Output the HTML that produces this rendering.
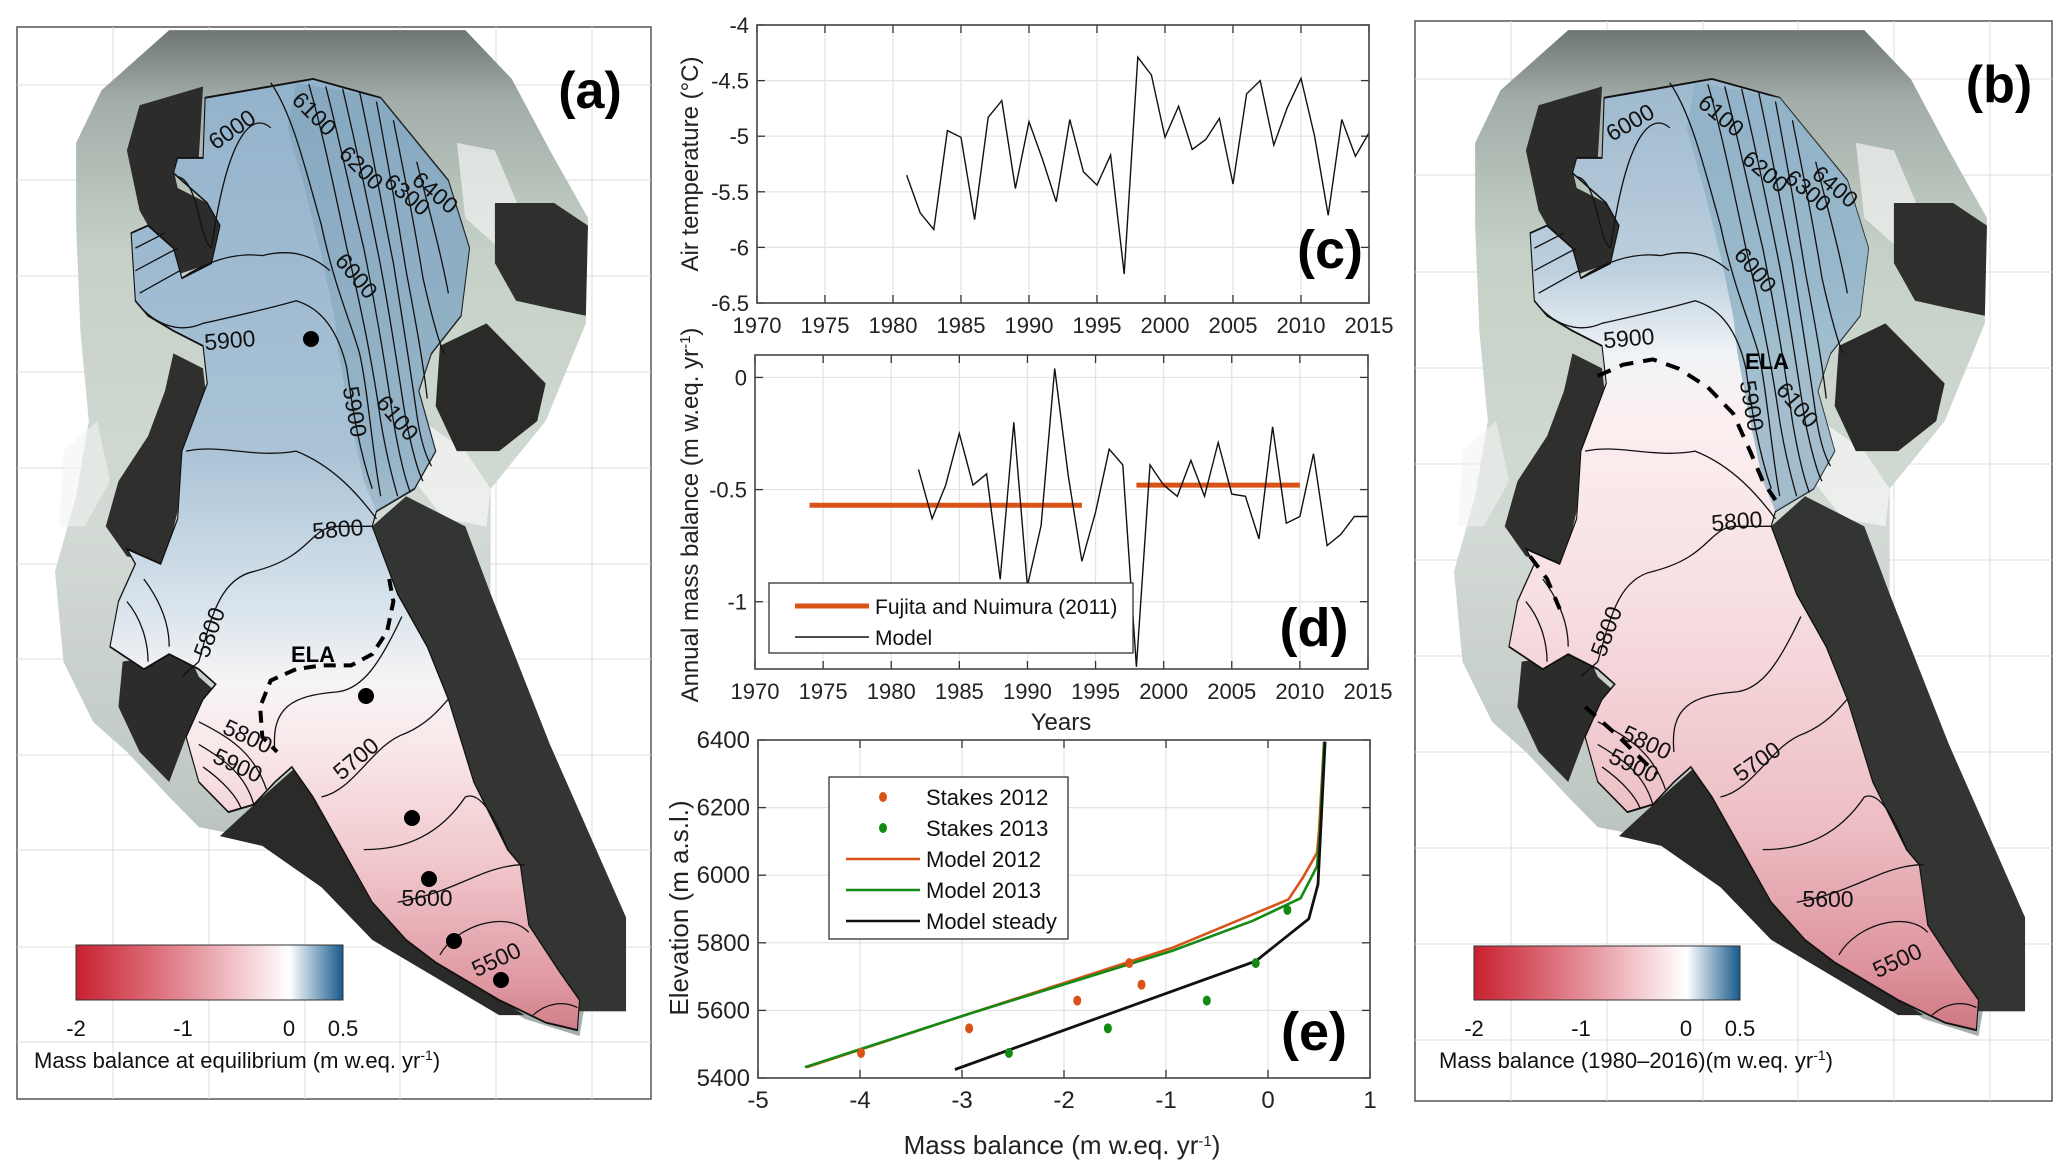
<!DOCTYPE html>
<html><head><meta charset="utf-8"><title>Glacier mass balance figure</title>
<style>
html,body{margin:0;padding:0;background:#fff;}
svg{display:block;font-family:"Liberation Sans",Arial,sans-serif;}
</style></head>
<body>
<svg id="fig" width="2067" height="1173" viewBox="0 0 2067 1173" xmlns="http://www.w3.org/2000/svg">
<defs>
  <linearGradient id="terrainGrad" gradientUnits="userSpaceOnUse" x1="0" y1="40" x2="0" y2="1380">
    <stop offset="0" stop-color="#6e7673"/>
    <stop offset="0.07" stop-color="#a3ada9"/>
    <stop offset="0.22" stop-color="#c5d1c7"/>
    <stop offset="0.5" stop-color="#d3dad5"/>
    <stop offset="0.75" stop-color="#c1c9c5"/>
    <stop offset="1" stop-color="#a5aeab"/>
  </linearGradient>
  <linearGradient id="glacA" gradientUnits="userSpaceOnUse" x1="0" y1="100" x2="0" y2="1380">
    <stop offset="0" stop-color="#93b2cb"/>
    <stop offset="0.39" stop-color="#aac3d6"/>
    <stop offset="0.55" stop-color="#d8e3ec"/>
    <stop offset="0.63" stop-color="#f6f4f5"/>
    <stop offset="0.70" stop-color="#f9e7e9"/>
    <stop offset="0.82" stop-color="#f0c7cc"/>
    <stop offset="0.94" stop-color="#e09aa3"/>
    <stop offset="1" stop-color="#cf7b86"/>
  </linearGradient>
  <linearGradient id="glacB" gradientUnits="userSpaceOnUse" x1="0" y1="100" x2="0" y2="1380">
    <stop offset="0" stop-color="#9db8cd"/>
    <stop offset="0.2" stop-color="#bccfde"/>
    <stop offset="0.29" stop-color="#eff3f6"/>
    <stop offset="0.35" stop-color="#fbf0f1"/>
    <stop offset="0.55" stop-color="#f7dee1"/>
    <stop offset="0.78" stop-color="#edbec4"/>
    <stop offset="0.93" stop-color="#dd929c"/>
    <stop offset="1" stop-color="#cd7580"/>
  </linearGradient>
  <linearGradient id="cbarGrad" x1="0" y1="0" x2="1" y2="0">
    <stop offset="0" stop-color="#c8202f"/>
    <stop offset="0.4" stop-color="#e38a94"/>
    <stop offset="0.8" stop-color="#ffffff"/>
    <stop offset="1" stop-color="#175a8c"/>
  </linearGradient>
  <g id="terrain">
    <path fill="url(#terrainGrad)" d="M180,190 L240,120 L400,40 L1100,40 L1210,105 L1300,200 L1390,290 L1385,430 L1290,560 L1160,650 L1160,790 L1250,930 L1370,1090 L1480,1220 L1480,1345 L1380,1345 L1370,1378 L1240,1355 L1000,1270 L860,1190 L740,1120 L560,1110 L470,1100 L400,1060 L300,1000 L220,960 L150,880 L130,760 L180,660 L210,560 L190,440 L180,300 Z"/>
    <path fill="#f2f4f2" opacity="0.8" d="M1000,560 L1100,600 L1160,650 L1150,700 L1050,690 L980,640 Z"/>
    <path fill="#f2f4f2" opacity="0.7" d="M1080,190 L1170,200 L1230,280 L1180,330 L1100,290 Z"/>
    <path fill="#f2f4f2" opacity="0.6" d="M150,600 L230,560 L260,640 L200,700 L140,700 Z"/>
    <path fill="#2c2d2b" d="M330,140 L480,115 L470,210 L410,225 L420,250 L490,270 L520,300 L500,350 L420,365 L380,330 L330,280 L300,200 Z"/>
    <path fill="#2f302e" d="M410,470 L480,490 L490,540 L430,600 L420,680 L390,750 L300,740 L250,700 L280,640 L350,580 L390,520 Z"/>
    <path fill="#2c2d2b" d="M290,880 L400,870 L430,850 L470,900 L510,920 L480,960 L440,980 L400,1040 L330,1000 L280,940 Z"/>
    <path fill="#2f302e" d="M1170,270 L1310,270 L1390,300 L1385,420 L1300,410 L1220,400 L1170,350 Z"/>
    <path fill="#2a2b29" d="M1040,460 L1150,430 L1290,510 L1270,560 L1180,600 L1080,600 L1030,540 Z"/>
    <path fill="#333532" d="M880,700 L960,660 L1100,700 L1160,790 L1300,990 L1480,1220 L1480,1345 L1370,1345 L1250,1230 L1200,1130 L1100,1020 L1000,880 L930,780 Z"/>
    <path fill="#2a2b29" d="M620,1060 L700,1020 L780,1080 L900,1190 L1050,1280 L1240,1350 L1180,1350 L1000,1290 L880,1250 L760,1180 L620,1125 L520,1112 Z"/>
  </g>
  <path id="glacier" d="M485,130 L740,105 L900,130 L1060,240 L1110,330 L1090,420 L1020,470 L990,520 L1030,600 L980,650 L890,680 L880,700 L940,790 L1010,860 L1060,930 L1120,1040 L1200,1130 L1230,1150 L1250,1230 L1320,1290 L1370,1330 L1365,1370 L1290,1360 L1180,1330 L1030,1280 L960,1250 L880,1200 L800,1120 L740,1060 L690,1020 L650,1040 L600,1070 L540,1080 L470,1040 L440,980 L480,930 L510,910 L470,890 L400,870 L340,890 L260,860 L280,800 L320,750 L300,730 L380,750 L420,690 L430,600 L490,510 L480,460 L410,440 L350,420 L320,400 L310,310 L350,300 L410,330 L430,370 L500,350 L520,300 L490,270 L410,230 L420,210 L480,210 Z"/>
  <path id="steep" d="M700,110 L900,130 L1060,240 L1110,330 L1090,420 L1020,470 L990,520 L1030,600 L980,650 L890,680 L860,640 L830,560 L800,470 L790,420 L760,340 L720,250 L680,170 Z"/>
  <g id="contours" fill="none" stroke="#111" stroke-width="1.3">
    <path vector-effect="non-scaling-stroke" d="M420,235 C470,240 470,320 500,330 M500,330 C540,170 600,150 640,170"/>
    <path vector-effect="non-scaling-stroke" d="M640,110 C690,150 720,220 760,300 C790,380 830,430 850,470 C870,520 880,600 900,660"/>
    <path vector-effect="non-scaling-stroke" d="M730,112 C760,170 790,250 820,330 C850,400 880,480 900,560 C915,610 930,640 940,660"/>
    <path vector-effect="non-scaling-stroke" d="M770,115 C800,180 830,260 860,330 C885,400 910,480 930,560 C945,610 960,640 970,655"/>
    <path vector-effect="non-scaling-stroke" d="M810,118 C840,190 870,270 895,340 C920,410 940,490 960,560 C975,600 990,630 1000,640"/>
    <path vector-effect="non-scaling-stroke" d="M850,122 C880,200 905,280 930,350 C950,420 970,490 985,550 C995,590 1010,610 1020,620"/>
    <path vector-effect="non-scaling-stroke" d="M890,135 C915,210 940,290 960,360 C980,420 1000,480 1010,530"/>
    <path vector-effect="non-scaling-stroke" d="M930,160 C955,230 980,300 1000,370 C1020,420 1040,460 1050,470"/>
    <path vector-effect="non-scaling-stroke" d="M985,215 C1010,270 1040,330 1060,390"/>
    <path vector-effect="non-scaling-stroke" d="M430,370 C480,350 550,335 620,340 C690,330 740,340 780,360"/>
    <path vector-effect="non-scaling-stroke" d="M320,400 C360,430 420,445 480,430 C560,420 640,410 700,400 C760,410 800,440 820,490 C835,550 850,600 880,650"/>
    <path vector-effect="non-scaling-stroke" d="M440,600 C520,590 600,610 700,600 C790,620 850,660 890,690"/>
    <path vector-effect="non-scaling-stroke" d="M880,700 L800,700 C730,700 740,740 600,760 C520,770 500,820 470,880 L430,900"/>
    <path vector-effect="non-scaling-stroke" d="M650,1000 C640,940 690,925 800,920 C860,915 900,880 950,820"/>
    <path vector-effect="non-scaling-stroke" d="M760,1060 C840,1050 880,990 960,975 C1020,960 1050,935 1060,930"/>
    <path vector-effect="non-scaling-stroke" d="M860,1130 C960,1130 1040,1110 1100,1060 C1140,1050 1180,1100 1200,1130"/>
    <path vector-effect="non-scaling-stroke" d="M940,1200 C1040,1190 1100,1170 1150,1160 C1200,1150 1230,1150 1240,1150"/>
    <path vector-effect="non-scaling-stroke" d="M1040,1270 C1080,1230 1200,1210 1250,1240"/>
    <path vector-effect="non-scaling-stroke" d="M1260,1350 C1290,1335 1330,1330 1365,1340"/>
    <path vector-effect="non-scaling-stroke" d="M320,330 L390,310 M320,360 L420,330 M330,390 L425,360"/>
    <path vector-effect="non-scaling-stroke" d="M300,800 C330,820 350,850 350,880 M340,770 C380,800 400,830 400,860"/>
    <path vector-effect="non-scaling-stroke" d="M470,960 C540,980 600,1000 630,1050 M470,990 C530,1010 580,1030 600,1070 M480,1020 C530,1040 560,1060 570,1075"/>
  </g>
</defs>

<!-- ============ PANEL A ============ -->
<g id="panel-a">
  <rect x="17" y="27" width="634" height="1072" fill="#fff" stroke="#555" stroke-width="1.5"/>
  <g stroke="#dcdcdc" stroke-width="1">
    <path d="M113,27V1099 M209,27V1099 M305,27V1099 M400,27V1099 M496,27V1099 M592,27V1099 M17,85H651 M17,180H651 M17,276H651 M17,372H651 M17,468H651 M17,564H651 M17,659H651 M17,755H651 M17,850H651 M17,947H651 M17,1042H651"/>
  </g>
  <g transform="translate(0,0) scale(0.423,0.7519)">
    <use href="#terrain"/>
    <use href="#glacier" fill="url(#glacA)" stroke="#111" stroke-width="2.6" vector-effect="non-scaling-stroke"/>
    <use href="#steep" fill="#6f98ac" opacity="0.35"/>
    <use href="#contours"/>
    <path fill="none" stroke="#000" stroke-width="4" stroke-dasharray="12 8" vector-effect="non-scaling-stroke" d="M920,770 L930,800 L915,840 L880,870 L830,885 L760,885 L700,890 L640,905 L615,940 L620,980 L655,1000"/>
  </g>
  <g fill="#000">
    <circle cx="311" cy="339" r="8"/><circle cx="366" cy="696" r="8"/><circle cx="412" cy="818" r="8"/><circle cx="429" cy="879" r="8"/><circle cx="454" cy="941" r="8"/><circle cx="501" cy="980" r="8"/>
  </g>
  <g font-size="23" fill="#111" text-anchor="middle" dominant-baseline="middle">
    <text transform="translate(233,131) rotate(-35)">6000</text>
    <text transform="translate(313,115) rotate(45)">6100</text>
    <text transform="translate(360,169) rotate(45)">6200</text>
    <text transform="translate(406,196) rotate(40)">6300</text>
    <text transform="translate(434,194) rotate(40)">6400</text>
    <text transform="translate(355,277) rotate(50)">6000</text>
    <text transform="translate(230,342) rotate(-5)">5900</text>
    <text transform="translate(353,412) rotate(80)">5900</text>
    <text transform="translate(396,419) rotate(50)">6100</text>
    <text transform="translate(338,531) rotate(-5)">5800</text>
    <text transform="translate(211,633) rotate(-70)">5800</text>
    <text transform="translate(247,738) rotate(25)">5800</text>
    <text transform="translate(237,767) rotate(25)">5900</text>
    <text transform="translate(357,760) rotate(-40)">5700</text>
    <text transform="translate(427,900)">5600</text>
    <text transform="translate(497,961) rotate(-25)">5500</text>
  </g>
  <text x="313" y="662" font-size="22" font-weight="bold" text-anchor="middle">ELA</text>
  <text x="590" y="108" font-size="52" font-weight="bold" text-anchor="middle">(a)</text>
  <rect x="76" y="945" width="267" height="55" fill="url(#cbarGrad)" stroke="#333" stroke-width="1"/>
  <g font-size="22" text-anchor="middle" fill="#111">
    <text x="76" y="1036">-2</text><text x="183" y="1036">-1</text><text x="289" y="1036">0</text><text x="343" y="1036">0.5</text>
  </g>
  <text x="34" y="1068" font-size="22" fill="#111">Mass balance at equilibrium (m w.eq. yr<tspan baseline-shift="super" font-size="14">-1</tspan>)</text>
</g>

<!-- ============ PANEL B ============ -->
<g id="panel-b">
  <rect x="1415" y="21" width="637" height="1080" fill="#fff" stroke="#555" stroke-width="1.5"/>
  <g stroke="#dcdcdc" stroke-width="1">
    <path d="M1511,21V1101 M1607,21V1101 M1703,21V1101 M1798,21V1101 M1894,21V1101 M1990,21V1101 M1415,79H2052 M1415,175H2052 M1415,272H2052 M1415,368H2052 M1415,464H2052 M1415,560H2052 M1415,656H2052 M1415,752H2052 M1415,848H2052 M1415,944H2052 M1415,1040H2052"/>
  </g>
  <g transform="translate(1399,0) scale(0.423,0.7519)">
    <use href="#terrain"/>
    <use href="#glacier" fill="url(#glacB)" stroke="#111" stroke-width="2.6" vector-effect="non-scaling-stroke"/>
    <use href="#steep" fill="#8fb1c6" opacity="0.8"/>
    <use href="#contours"/>
    <path fill="none" stroke="#000" stroke-width="4" stroke-dasharray="14 10" vector-effect="non-scaling-stroke" d="M470,500 L530,485 L600,478 L660,490 L730,515 L790,550 L830,600 L860,640 L890,665"/>
    <path fill="none" stroke="#000" stroke-width="4" stroke-dasharray="14 10" vector-effect="non-scaling-stroke" d="M310,740 L350,770 L380,810 M440,940 L520,980 L610,1030"/>
  </g>
  <g font-size="23" fill="#111" text-anchor="middle" dominant-baseline="middle">
    <text transform="translate(1631,124) rotate(-30)">6000</text>
    <text transform="translate(1720,117) rotate(40)">6100</text>
    <text transform="translate(1764,173) rotate(40)">6200</text>
    <text transform="translate(1807,192) rotate(40)">6300</text>
    <text transform="translate(1834,188) rotate(40)">6400</text>
    <text transform="translate(1754,271) rotate(50)">6000</text>
    <text transform="translate(1629,340) rotate(-5)">5900</text>
    <text transform="translate(1750,406) rotate(80)">5900</text>
    <text transform="translate(1796,406) rotate(50)">6100</text>
    <text transform="translate(1737,523) rotate(-5)">5800</text>
    <text transform="translate(1608,632) rotate(-70)">5800</text>
    <text transform="translate(1646,744) rotate(25)">5800</text>
    <text transform="translate(1633,767) rotate(25)">5900</text>
    <text transform="translate(1758,763) rotate(-35)">5700</text>
    <text transform="translate(1828,901)">5600</text>
    <text transform="translate(1898,962) rotate(-25)">5500</text>
  </g>
  <text x="1767" y="369" font-size="22" font-weight="bold" text-anchor="middle">ELA</text>
  <text x="1999" y="102" font-size="52" font-weight="bold" text-anchor="middle">(b)</text>
  <rect x="1474" y="946" width="266" height="54" fill="url(#cbarGrad)" stroke="#333" stroke-width="1"/>
  <g font-size="22" text-anchor="middle" fill="#111">
    <text x="1474" y="1036">-2</text><text x="1581" y="1036">-1</text><text x="1686" y="1036">0</text><text x="1740" y="1036">0.5</text>
  </g>
  <text x="1439" y="1068" font-size="22" fill="#111">Mass balance (1980–2016)(m w.eq. yr<tspan baseline-shift="super" font-size="14">-1</tspan>)</text>
</g>

<g id="charts"></g>
</svg>

<script>
// ---------- Chart (c): air temperature ----------
const tempYears = [1981,1982,1983,1984,1985,1986,1987,1988,1989,1990,1991,1992,1993,1994,1995,1996,1997,1998,1999,2000,2001,2002,2003,2004,2005,2006,2007,2008,2009,2010,2011,2012,2013,2014,2015];
const tempValues = [-5.35,-5.69,-5.84,-4.95,-5.01,-5.75,-4.83,-4.68,-5.47,-4.87,-5.21,-5.59,-4.85,-5.32,-5.44,-5.17,-6.24,-4.29,-4.45,-5.01,-4.73,-5.12,-5.03,-4.84,-5.43,-4.62,-4.5,-5.08,-4.74,-4.48,-5.0,-5.71,-4.85,-5.18,-4.97];
const yearTicks = [1970,1975,1980,1985,1990,1995,2000,2005,2010,2015];
const tempTicks = [-6.5,-6,-5.5,-5,-4.5,-4];
// ---------- Chart (d): annual mass balance ----------
const mbYears = [1982,1983,1984,1985,1986,1987,1988,1989,1990,1991,1992,1993,1994,1995,1996,1997,1998,1999,2000,2001,2002,2003,2004,2005,2006,2007,2008,2009,2010,2011,2012,2013,2014,2015];
const mbValues = [-0.41,-0.63,-0.48,-0.25,-0.48,-0.43,-0.9,-0.2,-0.93,-0.66,0.04,-0.44,-0.82,-0.6,-0.32,-0.39,-1.29,-0.39,-0.48,-0.53,-0.37,-0.53,-0.29,-0.52,-0.53,-0.72,-0.22,-0.65,-0.62,-0.34,-0.75,-0.7,-0.62,-0.62];
const fujitaStart = [1974,1998];
const fujitaEnd = [1994,2010];
const fujitaValue = [-0.57,-0.48];
const mbTicks = [-1,-0.5,0];
// ---------- Chart (e): mass balance profile ----------
const stakes2012MB = [-3.99,-2.93,-1.87,-1.36,-1.24];
const stakes2012Elev = [5474,5547,5629,5740,5676];
const stakes2013MB = [-2.54,-1.57,-0.6,-0.12,0.19];
const stakes2013Elev = [5474,5547,5629,5740,5897];
const model2012MB = [-4.52,-2.94,-0.94,0.2,0.34,0.48,0.5,0.55];
const model2012Elev = [5432,5589,5785,5928,5992,6066,6130,6395];
const model2013MB = [-4.54,-2.94,-0.94,-0.15,0.32,0.48,0.51,0.55];
const model2013Elev = [5432,5589,5776,5865,5932,6026,6130,6395];
const steadyMB = [-3.07,-0.12,0.4,0.49,0.56];
const steadyElev = [5425,5746,5871,5973,6395];
const mbXTicks = [-5,-4,-3,-2,-1,0,1];
const elevTicks = [5400,5600,5800,6000,6200,6400];

const NS = "http://www.w3.org/2000/svg";
const root = document.getElementById('charts');
function mk(parent, tag, attrs, text){
  const el = document.createElementNS(NS, tag);
  for (const k in attrs) el.setAttribute(k, attrs[k]);
  if (text !== undefined) el.textContent = text;
  parent.appendChild(el);
  return el;
}
function scale(d0,d1,r0,r1){ return v => r0 + (v-d0)/(d1-d0)*(r1-r0); }
const ORANGE = "#d95319", GREEN = "#138a13";

function axes(g, name, X, Y, box, xt, yt, xfmt, yfmt, fs){
  const grid = mk(g,'g',{stroke:'#e3e3e3','stroke-width':1.2});
  
  
  xt.forEach(t=>{ mk(grid,'line',{x1:X(t),x2:X(t),y1:box.t,y2:box.b}); });
  yt.forEach(t=>{ mk(grid,'line',{x1:box.l,x2:box.r,y1:Y(t),y2:Y(t)}); });
  const tk = mk(g,'g',{stroke:'#333','stroke-width':1.3});
  
  
  xt.forEach(t=>{ mk(tk,'line',{x1:X(t),x2:X(t),y1:box.b,y2:box.b-8}); mk(tk,'line',{x1:X(t),x2:X(t),y1:box.t,y2:box.t+8}); });
  yt.forEach(t=>{ mk(tk,'line',{x1:box.l,x2:box.l+8,y1:Y(t),y2:Y(t)}); mk(tk,'line',{x1:box.r,x2:box.r-8,y1:Y(t),y2:Y(t)}); });
  const xl = mk(g,'g',{'font-size':fs,'text-anchor':'middle',fill:'#222'});
  
  
  xt.forEach(t=>{ mk(xl,'text',{x:X(t),y:box.b+30},xfmt(t)); });
  const yl = mk(g,'g',{'font-size':fs,'text-anchor':'end',fill:'#222'});
  
  
  yt.forEach(t=>{ mk(yl,'text',{x:box.l-8,y:Y(t)+8},yfmt(t)); });
}
function frame(g,name,box){
  const r = mk(g,'rect',{x:box.l,y:box.t,width:box.r-box.l,height:box.b-box.t,fill:'none',stroke:'#444','stroke-width':1.6});
  
  
}
function pts(xs,ys,X,Y){ return xs.map((v,i)=>X(v).toFixed(1)+','+Y(ys[i]).toFixed(1)).join(' '); }

// ---- chart c ----
const gc = mk(root,'g',{});


const bc = {l:757,r:1369,t:25,b:303};
const Xc = scale(1970,2015,bc.l,bc.r), Yc = scale(-6.5,-4,bc.b,bc.t);
mk(gc,'rect',{x:bc.l,y:bc.t,width:bc.r-bc.l,height:bc.b-bc.t,fill:'#fff'});
axes(gc,'chart-c',Xc,Yc,bc,yearTicks,tempTicks,String,String,22);
const lc = mk(gc,'polyline',{points:pts(tempYears,tempValues,Xc,Yc),fill:'none',stroke:'#111','stroke-width':1.4});


frame(gc,'chart-c',bc);
const cl = mk(gc,'text',{x:1330,y:268,'font-size':54,'font-weight':'bold','text-anchor':'middle'},'(c)');


const cy = mk(gc,'text',{transform:'translate(698,164) rotate(-90)','font-size':24,'text-anchor':'middle',fill:'#222'},'Air temperature (°C)');



// ---- chart d ----
const gd = mk(root,'g',{});


const bd = {l:755,r:1368,t:355,b:669};
const Xd = scale(1970,2015,bd.l,bd.r), Yd = scale(-1.3,0.1,bd.b,bd.t);
mk(gd,'rect',{x:bd.l,y:bd.t,width:bd.r-bd.l,height:bd.b-bd.t,fill:'#fff'});
axes(gd,'chart-d',Xd,Yd,bd,yearTicks,mbTicks,String,String,22);
fujitaStart.forEach((s,i)=>{
  const f = mk(gd,'line',{x1:Xd(s),x2:Xd(fujitaEnd[i]),y1:Yd(fujitaValue[i]),y2:Yd(fujitaValue[i]),stroke:ORANGE,'stroke-width':5});
  
  
});
const ld = mk(gd,'polyline',{points:pts(mbYears,mbValues,Xd,Yd),fill:'none',stroke:'#111','stroke-width':1.4});


frame(gd,'chart-d',bd);
const legd = mk(gd,'g',{});


mk(legd,'rect',{x:769,y:583,width:364,height:70,fill:'#fff',stroke:'#333','stroke-width':1.3});
mk(legd,'line',{x1:795,x2:869,y1:606,y2:606,stroke:ORANGE,'stroke-width':5});
mk(legd,'text',{x:875,y:614,'font-size':21,fill:'#111'},'Fujita and Nuimura (2011)');
mk(legd,'line',{x1:795,x2:869,y1:637,y2:637,stroke:'#111','stroke-width':1.4});
mk(legd,'text',{x:875,y:645,'font-size':21,fill:'#111'},'Model');
const dl = mk(gd,'text',{x:1314,y:646,'font-size':54,'font-weight':'bold','text-anchor':'middle'},'(d)');


const dy = mk(gd,'text',{transform:'translate(698,515) rotate(-90)','font-size':24,'text-anchor':'middle',fill:'#222'},'Annual mass balance (m w.eq. yr');


mk(dy,'tspan',{'baseline-shift':'super','font-size':15},'-1');
mk(dy,'tspan',{},')');
const dx = mk(gd,'text',{x:1061,y:730,'font-size':24,'text-anchor':'middle',fill:'#222'},'Years');



// ---- chart e ----
const ge = mk(root,'g',{});


const be = {l:758,r:1370,t:740,b:1078};
const Xe = scale(-5,1,be.l,be.r), Ye = scale(5400,6400,be.b,be.t);
mk(ge,'rect',{x:be.l,y:be.t,width:be.r-be.l,height:be.b-be.t,fill:'#fff'});
axes(ge,'chart-e',Xe,Ye,be,mbXTicks,elevTicks,String,String,24);
const m12 = mk(ge,'polyline',{points:pts(model2012MB,model2012Elev,Xe,Ye),fill:'none',stroke:ORANGE,'stroke-width':2.6});


const m13 = mk(ge,'polyline',{points:pts(model2013MB,model2013Elev,Xe,Ye),fill:'none',stroke:GREEN,'stroke-width':2.6});


const ms = mk(ge,'polyline',{points:pts(steadyMB,steadyElev,Xe,Ye),fill:'none',stroke:'#111','stroke-width':2.8});


stakes2012MB.forEach((v,i)=>{
  const c = mk(ge,'ellipse',{cx:Xe(v),cy:Ye(stakes2012Elev[i]),rx:4,ry:5,fill:ORANGE});
  
  
});
stakes2013MB.forEach((v,i)=>{
  const c = mk(ge,'ellipse',{cx:Xe(v),cy:Ye(stakes2013Elev[i]),rx:4,ry:5,fill:GREEN});
  
  
});
frame(ge,'chart-e',be);
const lege = mk(ge,'g',{'font-family':'"Liberation Sans Narrow","Liberation Sans",sans-serif'});


mk(lege,'rect',{x:829,y:777,width:239,height:162,fill:'#fff',stroke:'#333','stroke-width':1.3});
const legRows = [['Stakes 2012',ORANGE,'dot'],['Stakes 2013',GREEN,'dot'],['Model 2012',ORANGE,'line'],['Model 2013',GREEN,'line'],['Model steady','#111','line']];
legRows.forEach((r,i)=>{
  const y = 797 + i*31;
  if (r[2]==='dot') mk(lege,'ellipse',{cx:883,cy:y,rx:4,ry:5,fill:r[1]});
  else mk(lege,'line',{x1:846,x2:920,y1:y,y2:y,stroke:r[1],'stroke-width':2.6});
  mk(lege,'text',{x:926,y:y+8,'font-size':22,fill:'#111'},r[0]);
});
const el = mk(ge,'text',{x:1314,y:1050,'font-size':54,'font-weight':'bold','text-anchor':'middle'},'(e)');


const ey = mk(ge,'text',{transform:'translate(688,908) rotate(-90)','font-size':26,'text-anchor':'middle',fill:'#222'},'Elevation (m a.s.l.)');


const ex = mk(ge,'text',{x:1062,y:1154,'font-size':26,'text-anchor':'middle',fill:'#222'},'Mass balance (m w.eq. yr');


mk(ex,'tspan',{'baseline-shift':'super','font-size':15},'-1');
mk(ex,'tspan',{},')');
</script>
</body></html>
